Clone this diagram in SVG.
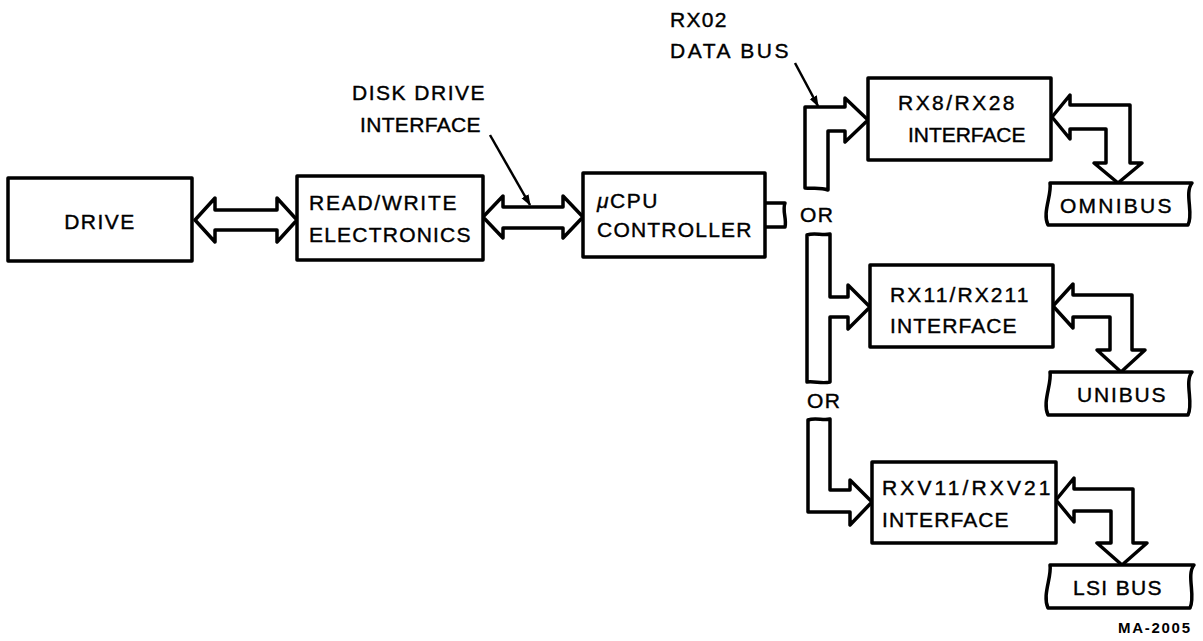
<svg xmlns="http://www.w3.org/2000/svg" width="1203" height="641" viewBox="0 0 1203 641">
<style>
.box{fill:#fff;stroke:#000;stroke-width:3.5;stroke-linejoin:round}
.bus{fill:#fff;stroke:#000;stroke-width:3.5;stroke-linejoin:round}
.t{font-family:"Liberation Sans",Arial,sans-serif;font-size:21px;fill:#000;stroke:#000;stroke-width:0.4;letter-spacing:1.5px}
.ln{stroke:#000;stroke-width:2.5;fill:none}
</style>
<defs>
<marker id="ah" markerWidth="12" markerHeight="10" refX="10" refY="5" orient="auto" markerUnits="userSpaceOnUse">
<path d="M0,1 L11,5 L0,9 Z" fill="#000"/>
</marker>
</defs>
<rect width="1203" height="641" fill="#fff"/>

<g id="connectors">
<path class="bus" d="M195,220 L215,198 L215,210 L277,210 L277,198 L297,220 L277,242 L277,230 L215,230 L215,242 Z"/>
<path class="bus" d="M483,217 L503,196 L503,207 L563,207 L563,196 L583,217 L563,238 L563,228 L503,228 L503,238 Z"/>
<path class="bus" d="M765,203 L785,203 C782,211 787,219 785,227 L765,227"/>
<path class="bus" d="M805,188 L805,107 L845,107 L845,98 L868,120 L845,142 L845,131 L828,131 L828,190 C820,187 812,189 805,188 Z"/>
<path class="bus" d="M807,235 C815,232 822,236 830,234 L830,297 L848,297 L848,285 L870,307 L848,329 L848,317 L830,317 L830,382 C822,384 815,381 807,382 Z"/>
<path class="bus" d="M808,420 C816,417 823,421 830,419 L830,490 L850,490 L850,480 L872,502 L850,525 L850,512 L808,512 Z"/>
<path class="bus" d="M1052,117 L1070,95 L1070,105 L1130,105 L1130,163 L1142,163 L1118,183 L1094,163 L1106,163 L1106,129 L1070,129 L1070,139 Z"/>
<path class="bus" d="M1053,306 L1073,284 L1073,295 L1132,295 L1132,350 L1145,350 L1121,372 L1097,350 L1110,350 L1110,317 L1073,317 L1073,328 Z"/>
<path class="bus" d="M1056,500 L1074,478 L1074,489 L1133,489 L1133,543 L1147,543 L1122,565 L1097,543 L1111,543 L1111,511 L1074,511 L1074,522 Z"/>
<line class="ln" x1="490" y1="135" x2="530" y2="205" marker-end="url(#ah)"/>
<line class="ln" x1="795" y1="63" x2="818" y2="106" marker-end="url(#ah)"/>
</g>

<g id="drive"><rect class="box" x="8" y="178" width="184" height="83"/><text class="t" x="100" y="229" text-anchor="middle">DRIVE</text></g>
<g id="rw"><rect class="box" x="297" y="176" width="186" height="84"/><text class="t" x="309" y="210" textLength="149" lengthAdjust="spacing">READ/WRITE</text><text class="t" x="309" y="242" textLength="163" lengthAdjust="spacing">ELECTRONICS</text></g>
<g id="ucpu"><rect class="box" x="583" y="173" width="182" height="84"/><text class="t" x="597" y="208"><tspan font-style="italic">μ</tspan>CPU</text><text class="t" x="597" y="237" textLength="156" lengthAdjust="spacing">CONTROLLER</text></g>
<g id="rx8"><rect class="box" x="868" y="78" width="183" height="82"/><text class="t" x="898" y="110" textLength="118" lengthAdjust="spacing">RX8/RX28</text><text class="t" x="908" y="142" textLength="119" lengthAdjust="spacing">INTERFACE</text></g>
<g id="rx11"><rect class="box" x="870" y="265" width="183" height="82"/><text class="t" x="890" y="302" textLength="140" lengthAdjust="spacing">RX11/RX211</text><text class="t" x="890" y="333" textLength="128" lengthAdjust="spacing">INTERFACE</text></g>
<g id="rxv11"><rect class="box" x="872" y="462" width="184" height="81"/><text class="t" x="882" y="495" textLength="170" lengthAdjust="spacing">RXV11/RXV21</text><text class="t" x="882" y="527" textLength="128" lengthAdjust="spacing">INTERFACE</text></g>
<g id="omnibus"><path class="box" d="M1050,183 L1192,183 C1184,193 1194,214 1188,225 L1048,225 C1042,213 1052,195 1050,183 Z"/><text class="t" x="1060" y="213" textLength="113" lengthAdjust="spacing">OMNIBUS</text></g>
<g id="unibus"><path class="box" d="M1050,372 L1192,372 C1184,382 1194,403 1188,415 L1048,415 C1042,402 1052,384 1050,372 Z"/><text class="t" x="1077" y="402" textLength="90" lengthAdjust="spacing">UNIBUS</text></g>
<g id="lsibus"><path class="box" d="M1050,565 L1194,565 C1186,575 1196,596 1190,608 L1048,608 C1042,595 1052,577 1050,565 Z"/><text class="t" x="1073" y="595" textLength="90" lengthAdjust="spacing">LSI BUS</text></g>

<g id="labels">
<text class="t" x="352" y="100" textLength="134" lengthAdjust="spacing">DISK DRIVE</text>
<text class="t" x="360" y="132" textLength="122" lengthAdjust="spacing">INTERFACE</text>
<text class="t" x="670" y="27" textLength="58" lengthAdjust="spacing">RX02</text>
<text class="t" x="670" y="58" textLength="120" lengthAdjust="spacing">DATA BUS</text>
<text class="t" x="800" y="222">OR</text>
<text class="t" x="807" y="408">OR</text>
<text x="1118" y="633" textLength="72" lengthAdjust="spacing" font-family="Liberation Sans,Arial,sans-serif" font-size="15" font-weight="bold">MA-2005</text>
</g>
</svg>
